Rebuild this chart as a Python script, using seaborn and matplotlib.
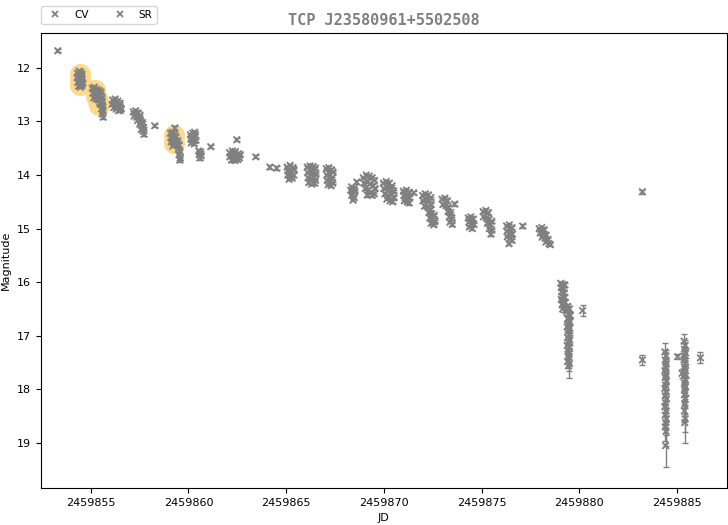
import pandas as pd
import matplotlib
matplotlib.use("Agg")
import matplotlib.pyplot as plt
import seaborn as sns

JD0 = 2459850

# CV band: days after JD0, magnitude, error
cv_jd = [
    4.32, 4.40, 4.48, 4.55, 4.30, 4.38, 4.46, 4.56, 4.33, 4.42, 4.50, 4.58, 4.38, 4.47, 4.54, 4.44, 4.52,
    5.08, 5.18, 5.30, 5.42, 5.52, 5.10, 5.22, 5.35, 5.48, 5.58, 5.15, 5.28, 5.40, 5.55, 5.50, 5.60, 5.55, 5.62, 5.58, 5.63, 5.45,
    6.12, 6.25, 6.38, 6.50, 6.10, 6.22, 6.35, 6.48, 6.56, 6.18, 6.30, 6.42, 6.52,
    7.18, 7.30, 7.42, 7.52, 7.22, 7.35, 7.48, 7.40, 7.55, 7.65, 7.50, 7.62, 7.70, 7.58, 7.68, 7.72,
    9.08, 9.18, 9.28, 9.10, 9.22, 9.35, 9.12, 9.25, 9.38, 9.20, 9.45, 9.52, 9.48, 9.56, 9.52, 9.58, 9.55,
    10.10, 10.22, 10.35, 10.12, 10.25, 10.38, 10.15, 10.30, 10.52, 10.62, 10.55, 10.65, 10.58,
    12.10, 12.25, 12.40, 12.55, 12.12, 12.28, 12.45, 12.60, 12.20, 12.38, 12.52, 12.65,
    15.05, 15.20, 15.35, 15.10, 15.25, 15.40, 15.08, 15.22, 15.38, 15.15, 15.30,
    16.08, 16.22, 16.38, 16.50, 16.10, 16.25, 16.40, 16.52, 16.12, 16.28, 16.42, 16.50, 16.15, 16.30, 16.45,
    17.05, 17.18, 17.32, 17.40, 17.08, 17.22, 17.36, 17.10, 17.25, 17.38, 17.15, 17.30,
    18.35, 18.48, 18.40, 18.52, 18.35, 18.48, 18.42, 18.30,
    18.95, 19.10, 19.25, 19.40, 19.52, 18.98, 19.15, 19.30, 19.45, 19.55, 19.05, 19.20, 19.35, 19.50, 19.15, 19.40,
    19.98, 20.12, 20.28, 20.42, 20.00, 20.18, 20.35, 20.50, 20.05, 20.22, 20.40, 20.52, 20.15, 20.32, 20.45,
    21.00, 21.15, 21.30, 21.02, 21.18, 21.32, 21.05, 21.20, 21.30,
    21.98, 22.12, 22.28, 22.40, 22.00, 22.15, 22.30, 22.42, 22.08, 22.25, 22.38, 22.30, 22.45, 22.58, 22.35, 22.50, 22.62, 22.42, 22.55,
    22.98, 23.12, 23.25, 23.02, 23.18, 23.30, 23.28, 23.42, 23.35, 23.48, 23.38, 23.50,
    24.32, 24.45, 24.58, 24.35, 24.50, 24.60, 24.38, 24.52,
    25.08, 25.22, 25.35, 25.10, 25.25, 25.38, 25.30, 25.45, 25.52, 25.40, 25.52, 25.48,
    26.28, 26.42, 26.55, 26.30, 26.45, 26.58, 26.32, 26.48, 26.55, 26.40,
    27.95, 28.08, 28.20, 28.00, 28.15, 28.30, 28.10, 28.25, 28.40, 28.30, 28.45, 28.52,
    29.05, 29.15, 29.25, 29.08, 29.20, 29.10, 29.22, 29.12, 29.25, 29.08, 29.18, 29.28, 29.12, 29.22, 29.15,
    29.40, 29.50, 29.35, 29.45, 29.55, 29.40, 29.50, 29.45, 29.38, 29.52, 29.42, 29.48, 29.40, 29.52, 29.45, 29.38, 29.50, 29.42, 29.48, 29.45, 29.40, 29.50, 29.45,
    30.17,
    33.23,
    34.38, 34.44, 34.40, 34.46, 34.42, 34.38, 34.44, 34.40, 34.46, 34.42, 34.38, 34.44, 34.40, 34.46, 34.42, 34.38, 34.44, 34.40, 34.46, 34.42, 34.40, 34.44, 34.42,
    35.03,
    35.36, 35.42, 35.38, 35.44, 35.40, 35.36, 35.42, 35.38, 35.44, 35.40, 35.36, 35.42, 35.38, 35.44, 35.40, 35.38, 35.42, 35.40, 35.38, 35.42, 35.40, 35.26,
    36.20,
]
cv_mag = [
    12.10, 12.06, 12.08, 12.12, 12.18, 12.15, 12.20, 12.22, 12.27, 12.25, 12.30, 12.28, 12.34, 12.36, 12.33, 12.14, 12.17,
    12.38, 12.36, 12.40, 12.42, 12.45, 12.47, 12.46, 12.50, 12.52, 12.55, 12.56, 12.58, 12.60, 12.62, 12.68, 12.70, 12.76, 12.80, 12.86, 12.92, 12.65,
    12.60, 12.58, 12.62, 12.66, 12.68, 12.67, 12.70, 12.72, 12.76, 12.74, 12.77, 12.80, 12.79,
    12.82, 12.80, 12.84, 12.88, 12.90, 12.92, 12.95, 12.98, 13.00, 13.02, 13.05, 13.08, 13.12, 13.15, 13.18, 13.24,
    13.22, 13.20, 13.24, 13.30, 13.32, 13.28, 13.38, 13.40, 13.42, 13.46, 13.36, 13.44, 13.52, 13.56, 13.62, 13.68, 13.72,
    13.25, 13.22, 13.26, 13.33, 13.31, 13.35, 13.40, 13.42, 13.55, 13.57, 13.62, 13.64, 13.68,
    13.58, 13.55, 13.56, 13.60, 13.66, 13.64, 13.65, 13.68, 13.72, 13.73, 13.71, 13.62,
    13.85, 13.82, 13.86, 13.92, 13.95, 13.90, 14.00, 14.03, 14.00, 14.08, 14.06,
    13.85, 13.83, 13.84, 13.87, 13.95, 13.93, 13.96, 13.98, 14.05, 14.07, 14.04, 14.10, 14.14, 14.17, 14.15,
    13.88, 13.86, 13.90, 13.95, 14.00, 13.98, 14.05, 14.10, 14.12, 14.15, 14.18, 14.20,
    14.22, 14.25, 14.32, 14.30, 14.38, 14.42, 14.47, 14.28,
    14.05, 14.00, 14.02, 14.05, 14.10, 14.15, 14.12, 14.16, 14.20, 14.25, 14.25, 14.28, 14.32, 14.35, 14.37, 14.38,
    14.15, 14.12, 14.15, 14.20, 14.25, 14.23, 14.27, 14.30, 14.35, 14.38, 14.36, 14.42, 14.45, 14.48, 14.50,
    14.30, 14.28, 14.32, 14.38, 14.40, 14.42, 14.48, 14.50, 14.52,
    14.38, 14.35, 14.37, 14.42, 14.48, 14.46, 14.50, 14.55, 14.58, 14.60, 14.64, 14.70, 14.72, 14.75, 14.80, 14.83, 14.86, 14.90, 14.93,
    14.45, 14.43, 14.48, 14.55, 14.57, 14.60, 14.68, 14.70, 14.78, 14.80, 14.88, 14.92,
    14.80, 14.78, 14.82, 14.88, 14.90, 14.92, 14.97, 15.00,
    14.68, 14.66, 14.70, 14.78, 14.80, 14.82, 14.90, 14.92, 14.86, 15.00, 15.03, 15.10,
    14.95, 14.93, 14.98, 15.05, 15.07, 15.10, 15.15, 15.18, 15.22, 15.28,
    15.00, 14.98, 15.02, 15.08, 15.10, 15.12, 15.16, 15.18, 15.20, 15.25, 15.28, 15.30,
    16.02, 16.04, 16.05, 16.10, 16.12, 16.18, 16.20, 16.26, 16.28, 16.32, 16.35, 16.38, 16.42, 16.45, 16.50,
    16.45, 16.50, 16.55, 16.60, 16.62, 16.68, 16.72, 16.78, 16.83, 16.86, 16.92, 16.98, 17.03, 17.08, 17.12, 17.18, 17.22, 17.28, 17.33, 17.40, 17.48, 17.52, 17.56,
    16.53,
    17.45,
    17.30, 17.38, 17.45, 17.52, 17.58, 17.65, 17.72, 17.78, 17.85, 17.92, 17.98, 18.05, 18.12, 18.18, 18.25, 18.32, 18.40, 18.48, 18.55, 18.62, 18.70, 18.78, 19.05,
    17.39,
    17.10, 17.18, 17.25, 17.32, 17.38, 17.45, 17.52, 17.58, 17.65, 17.70, 17.75, 17.82, 17.88, 17.95, 18.02, 18.10, 18.18, 18.28, 18.40, 18.55, 18.62, 17.70,
    17.41,
]
cv_err = [
    0.02, 0.02, 0.03, 0.02, 0.02, 0.03, 0.02, 0.02, 0.03, 0.02, 0.02, 0.03, 0.02, 0.02, 0.03, 0.02, 0.02,
    0.02, 0.02, 0.03, 0.02, 0.02, 0.03, 0.02, 0.02, 0.03, 0.02, 0.02, 0.03, 0.02, 0.02, 0.03, 0.02, 0.02, 0.03, 0.02, 0.03, 0.02,
    0.02, 0.02, 0.03, 0.02, 0.02, 0.03, 0.02, 0.02, 0.03, 0.02, 0.02, 0.03, 0.02,
    0.02, 0.02, 0.03, 0.02, 0.02, 0.03, 0.02, 0.02, 0.03, 0.02, 0.02, 0.03, 0.02, 0.02, 0.03, 0.03,
    0.02, 0.02, 0.03, 0.02, 0.02, 0.03, 0.02, 0.02, 0.03, 0.02, 0.02, 0.03, 0.02, 0.02, 0.03, 0.03, 0.03,
    0.02, 0.02, 0.03, 0.02, 0.02, 0.03, 0.02, 0.02, 0.03, 0.02, 0.02, 0.03, 0.03,
    0.02, 0.02, 0.03, 0.02, 0.02, 0.03, 0.02, 0.02, 0.03, 0.02, 0.02, 0.03,
    0.02, 0.02, 0.03, 0.02, 0.02, 0.03, 0.02, 0.02, 0.03, 0.02, 0.02,
    0.02, 0.02, 0.03, 0.02, 0.02, 0.03, 0.02, 0.02, 0.03, 0.02, 0.02, 0.03, 0.02, 0.02, 0.03,
    0.02, 0.02, 0.03, 0.02, 0.02, 0.03, 0.02, 0.02, 0.03, 0.02, 0.02, 0.03,
    0.02, 0.02, 0.03, 0.02, 0.02, 0.03, 0.02, 0.03,
    0.02, 0.02, 0.03, 0.02, 0.02, 0.03, 0.02, 0.02, 0.03, 0.02, 0.02, 0.03, 0.02, 0.02, 0.03, 0.02,
    0.02, 0.02, 0.03, 0.02, 0.02, 0.03, 0.02, 0.02, 0.03, 0.02, 0.02, 0.03, 0.02, 0.02, 0.03,
    0.02, 0.02, 0.03, 0.02, 0.02, 0.03, 0.02, 0.02, 0.03,
    0.02, 0.02, 0.03, 0.02, 0.02, 0.03, 0.02, 0.02, 0.03, 0.02, 0.02, 0.03, 0.02, 0.02, 0.03, 0.02, 0.02, 0.03, 0.02,
    0.02, 0.02, 0.03, 0.02, 0.02, 0.03, 0.02, 0.02, 0.03, 0.02, 0.02, 0.03,
    0.02, 0.02, 0.03, 0.02, 0.02, 0.03, 0.02, 0.03,
    0.02, 0.02, 0.03, 0.02, 0.02, 0.03, 0.02, 0.02, 0.03, 0.02, 0.02, 0.03,
    0.02, 0.02, 0.03, 0.02, 0.02, 0.03, 0.02, 0.02, 0.03, 0.03,
    0.02, 0.02, 0.03, 0.02, 0.02, 0.03, 0.02, 0.02, 0.03, 0.02, 0.02, 0.03,
    0.03, 0.03, 0.04, 0.03, 0.03, 0.04, 0.03, 0.04, 0.04, 0.03, 0.04, 0.04, 0.05, 0.04, 0.05,
    0.05, 0.05, 0.06, 0.06, 0.06, 0.07, 0.07, 0.07, 0.08, 0.08, 0.08, 0.09, 0.09, 0.09, 0.10, 0.10, 0.10, 0.11, 0.11, 0.12, 0.12, 0.13, 0.22,
    0.10,
    0.10,
    0.17, 0.12, 0.15, 0.12, 0.14, 0.13, 0.15, 0.14, 0.16, 0.15, 0.17, 0.16, 0.18, 0.17, 0.19, 0.18, 0.20, 0.22, 0.21, 0.24, 0.26, 0.28, 0.40,
    0.05,
    0.14, 0.10, 0.12, 0.10, 0.11, 0.12, 0.11, 0.13, 0.12, 0.14, 0.13, 0.15, 0.14, 0.16, 0.15, 0.17, 0.16, 0.18, 0.20, 0.25, 0.38, 0.08,
    0.10,
]

# SR band
sr_jd = [3.31, 8.27, 9.30, 10.32, 11.14, 12.47, 13.44, 14.16, 14.51, 18.61, 21.52, 23.62, 27.10, 33.23]
sr_mag = [11.68, 13.08, 13.12, 13.20, 13.47, 13.34, 13.66, 13.85, 13.87, 14.13, 14.33, 14.54, 14.95, 14.31]
sr_err = [0.03, 0.03, 0.03, 0.03, 0.03, 0.03, 0.03, 0.03, 0.03, 0.03, 0.03, 0.03, 0.03, 0.04]

# highlighted detections
hl_jd = [4.44, 4.44, 4.44, 5.20, 5.28, 5.36, 5.42, 9.25, 9.25]
hl_mag = [12.12, 12.22, 12.32, 12.42, 12.52, 12.62, 12.70, 13.25, 13.40]

cv = pd.DataFrame({'JD': [JD0 + d for d in cv_jd], 'mag': cv_mag, 'err': cv_err, 'band': 'CV'})
sr = pd.DataFrame({'JD': [JD0 + d for d in sr_jd], 'mag': sr_mag, 'err': sr_err, 'band': 'SR'})
df = pd.concat([cv, sr], ignore_index=True)

fig, ax = plt.subplots(figsize=(7.28, 5.25), dpi=100)
fig.subplots_adjust(left=0.056, right=0.9986, bottom=0.0705, top=0.937)

ax.scatter([JD0 + d for d in hl_jd], hl_mag, s=230, color='#fdd98c', linewidths=0, zorder=1)
ax.errorbar(df['JD'], df['mag'], yerr=df['err'], fmt='none', ecolor='gray',
            elinewidth=1, capsize=2, zorder=2)
sns.scatterplot(data=df, x='JD', y='mag', hue='band',
                palette={'CV': 'gray', 'SR': 'gray'},
                marker='x', s=22, linewidth=1.3, ax=ax, zorder=3)

ax.set_xlim(2459852.44, 2459887.56)
ax.set_ylim(19.84, 11.35)
ax.ticklabel_format(axis='x', useOffset=False, style='plain')
ax.tick_params(labelsize=8)
ax.set_xlabel('JD', fontsize=8)
ax.set_ylabel('Magnitude', fontsize=8)
ax.set_title('TCP J23580961+5502508', fontsize=11, fontweight='bold',
             color='gray', family='DejaVu Sans Mono', pad=6)
sns.move_legend(ax, 'lower left', bbox_to_anchor=(0, 1.02), ncol=2,
                title=None, fontsize=7.5, borderaxespad=0, markerscale=0.8)

plt.savefig('out.png', dpi=100)
